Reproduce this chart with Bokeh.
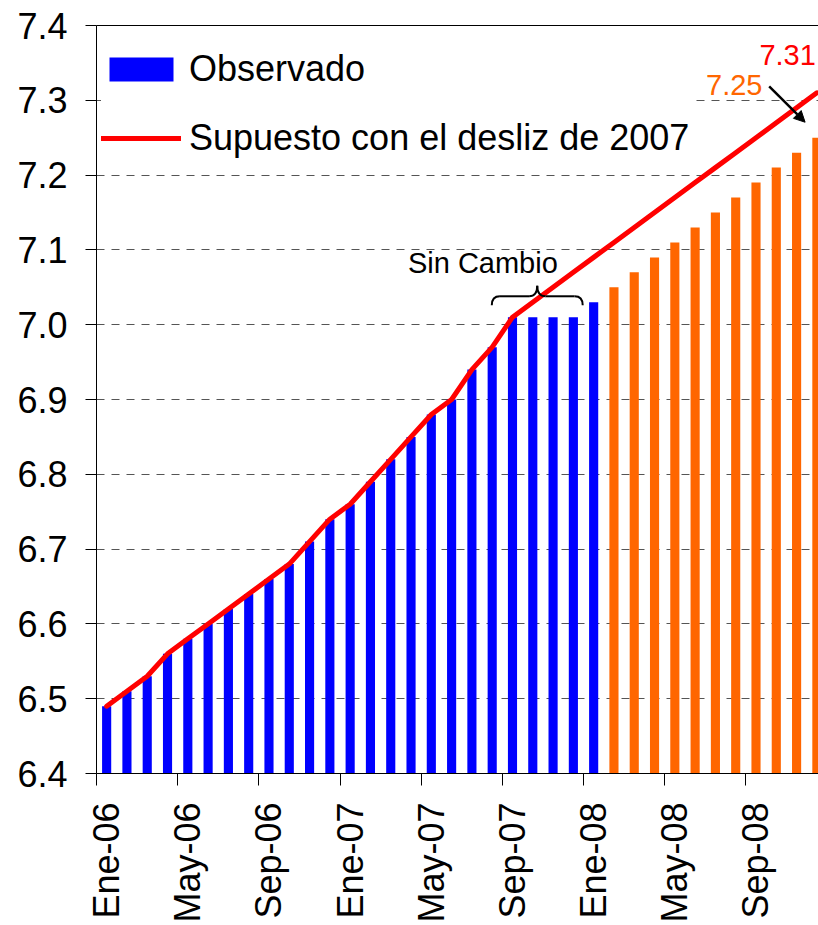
import math
from bokeh.plotting import figure
from bokeh.models import (Range1d, FixedTicker, LinearAxis, Legend, LegendItem, Grid,
                          Arrow, NormalHead, PrintfTickFormatter, Label)
from bokeh.core.properties import value
from bokeh.embed import file_html
from bokeh.resources import INLINE

# ---------------- data ----------------
months = ["Ene-06", "Feb-06", "Mar-06", "Abr-06", "May-06", "Jun-06", "Jul-06", "Ago-06",
          "Sep-06", "Oct-06", "Nov-06", "Dic-06",
          "Ene-07", "Feb-07", "Mar-07", "Abr-07", "May-07", "Jun-07", "Jul-07", "Ago-07",
          "Sep-07", "Oct-07", "Nov-07", "Dic-07",
          "Ene-08", "Feb-08", "Mar-08", "Abr-08", "May-08", "Jun-08", "Jul-08", "Ago-08",
          "Sep-08", "Oct-08", "Nov-08", "Dic-08"]

observado = [6.49, 6.51, 6.53, 6.56, 6.58, 6.60, 6.62, 6.64, 6.66, 6.68, 6.71, 6.74,
             6.76, 6.79, 6.82, 6.85, 6.88, 6.90, 6.94, 6.97, 7.01, 7.01, 7.01, 7.01,
             7.03]

proyectado = [7.05, 7.07, 7.09, 7.11, 7.13, 7.15, 7.17, 7.19, 7.21, 7.23, 7.25]

supuesto = [6.49, 6.51, 6.53, 6.56, 6.58, 6.60, 6.62, 6.64, 6.66, 6.68, 6.71, 6.74,
            6.76, 6.79, 6.82, 6.85, 6.88, 6.90, 6.94, 6.97, 7.01, 7.03, 7.05, 7.07,
            7.09, 7.11, 7.13, 7.15, 7.17, 7.19, 7.21, 7.23, 7.25, 7.27, 7.29, 7.31]

tick_labels = ["Ene-06", "May-06", "Sep-06", "Ene-07", "May-07", "Sep-07",
               "Ene-08", "May-08", "Sep-08"]

sin_cambio_months = ["Sep-07", "Oct-07", "Nov-07", "Dic-07"]

# ---------------- style ----------------
FONT = "Liberation Sans"
BLUE = "#0000FF"
ORANGE = "#FF6600"
RED = "#FF0000"

idx = {m: i for i, m in enumerate(months)}
x_all = [i + 0.5 for i in range(len(months))]
x_obs = x_all[:len(observado)]
x_proj = x_all[len(observado):len(observado) + len(proyectado)]

p = figure(width=818, height=925, output_backend="svg", toolbar_location=None,
           x_range=Range1d(0, 35.58), y_range=Range1d(6.4, 7.4),
           min_border_left=96, min_border_right=0, min_border_top=25,
           min_border_bottom=152, x_axis_type=None, y_axis_type=None)
p.background_fill_color = "white"
p.border_fill_color = "white"
p.outline_line_color = None

# y axis
yticks = [round(6.4 + 0.1 * i, 1) for i in range(11)]
yaxis = LinearAxis(ticker=FixedTicker(ticks=yticks), formatter=PrintfTickFormatter(format="%.1f"))
yaxis.axis_line_color = "black"
yaxis.major_tick_line_color = "black"
yaxis.major_tick_out = 11
yaxis.major_tick_in = 0
yaxis.minor_tick_line_color = None
yaxis.major_label_text_font = FONT
yaxis.major_label_text_font_size = "36px"
yaxis.major_label_text_color = "black"
yaxis.major_label_standoff = 18
p.add_layout(yaxis, "left")

# x axis: labels at month centres, tick marks at month boundaries
lab_pos = [idx[m] + 0.5 for m in tick_labels]
bnd_pos = [float(idx[m]) for m in tick_labels]
xaxis = LinearAxis(ticker=FixedTicker(ticks=lab_pos, minor_ticks=bnd_pos))
xaxis.major_label_overrides = {pos: lab for pos, lab in zip(lab_pos, tick_labels)}
xaxis.axis_line_color = "black"
xaxis.major_tick_line_color = None
xaxis.major_tick_out = 0
xaxis.major_tick_in = 0
xaxis.minor_tick_line_color = "black"
xaxis.minor_tick_out = 12
xaxis.minor_tick_in = 0
xaxis.major_label_orientation = math.pi / 2
xaxis.major_label_text_font = FONT
xaxis.major_label_text_font_size = "36px"
xaxis.major_label_text_color = "black"
xaxis.major_label_standoff = 17
p.add_layout(xaxis, "below")

# top border line
top = LinearAxis(ticker=FixedTicker(ticks=[]))
top.axis_line_color = "black"
top.major_tick_line_color = None
top.minor_tick_line_color = None
top.major_tick_out = 0
top.major_label_text_font_size = "0px"
p.add_layout(top, "above")

# dashed horizontal grid
grid = Grid(dimension=1, ticker=FixedTicker(ticks=yticks[1:-1]))
grid.grid_line_color = "#555555"
grid.grid_line_dash = "8 7"
grid.grid_line_width = 1
p.add_layout(grid)

# bars
r_obs = p.vbar(x=x_obs, top=observado, bottom=6.4, width=0.45, color=BLUE, line_color=None)
p.vbar(x=x_proj, top=proyectado, bottom=6.4, width=0.45, color=ORANGE, line_color=None)

# red line
r_line = p.line(x=x_all, y=supuesto, line_color=RED, line_width=5,
                line_join="round", line_cap="round")

# legend
legend = Legend(items=[LegendItem(label="Observado", renderers=[r_obs]),
                       LegendItem(label="Supuesto con el desliz de 2007", renderers=[r_line])],
                location=(5, 614.5))
legend.label_text_font = FONT
legend.label_text_font_size = "36px"
legend.label_text_color = "black"
legend.glyph_width = 80
legend.glyph_height = 30
legend.label_standoff = 8
legend.label_width = 505
legend.label_height = 41
legend.spacing = 27
legend.padding = 5
legend.margin = 0
legend.border_line_color = None
legend.background_fill_color = "white"
legend.background_fill_alpha = 1.0
p.add_layout(legend)

# "Sin Cambio" brace
xa = idx[sin_cambio_months[0]] - 0.52
xb = idx[sin_cambio_months[-1]] + 0.96
xc = (xa + xb) / 2
yb, ym, yt = 7.026, 7.038, 7.052
r = 0.4
p.quadratic(x0=[xa, xc - r, xc, xb - r], y0=[yb, ym, yt, ym],
            x1=[xa + r, xc, xc + r, xb], y1=[ym, yt, ym, yb],
            cx=[xa, xc, xc, xb], cy=[ym, ym, ym, ym],
            line_color="black", line_width=2)
p.segment(x0=[xa + r, xc + r], y0=[ym, ym], x1=[xc - r, xb - r], y1=[ym, ym],
          line_color="black", line_width=2)
p.text(x=[19.04], y=[7.083], text=["Sin Cambio"], text_font=value(FONT),
       text_font_size="29px", text_align="center", text_baseline="alphabetic",
       text_color="black")

# value labels and arrow (added after the legend so they sit on top)
p.add_layout(Label(x=x_all[-1], y=7.361, text=f"{supuesto[-1]:.2f}", x_offset=-1,
                   text_font=FONT, text_font_size="29px", text_align="right",
                   text_baseline="alphabetic", text_color=RED))
p.add_layout(Label(x=32.82, y=7.321, text=f"{proyectado[-1]:.2f}",
                   text_font=FONT, text_font_size="29px", text_align="right",
                   text_baseline="alphabetic", text_color=ORANGE))
p.add_layout(Arrow(end=NormalHead(size=11, fill_color="black", line_color="black"),
                   x_start=33.15, y_start=7.3185, x_end=34.92, y_end=7.2707,
                   line_color="black", line_width=2.5))

open("out.html", "w").write(file_html(p, INLINE))
